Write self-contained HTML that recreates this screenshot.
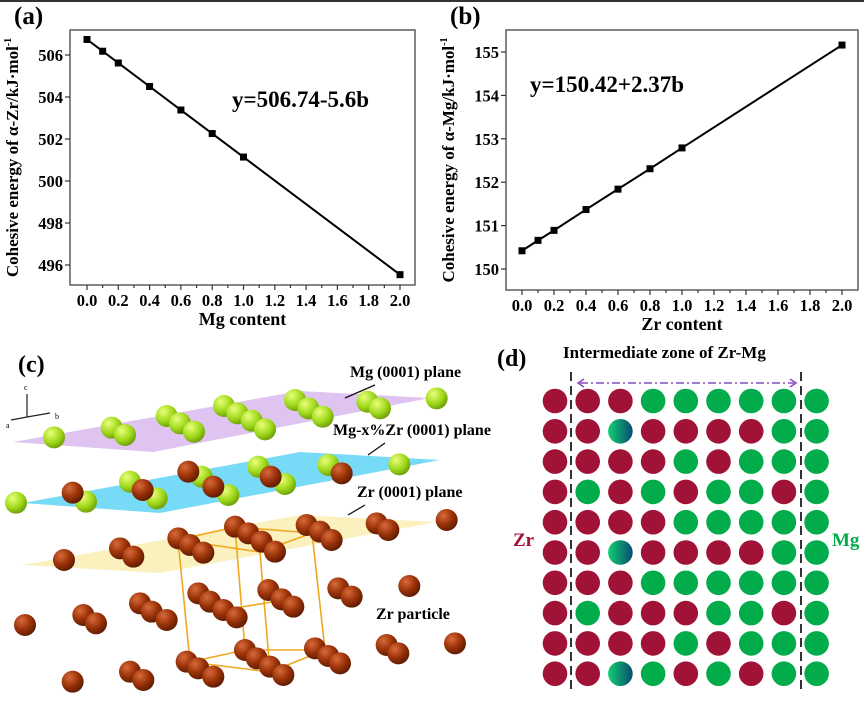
<!DOCTYPE html>
<html><head><meta charset="utf-8"><style>
body{margin:0;background:#fff}
svg{display:block;font-family:"Liberation Serif",serif;font-weight:bold}
</style></head><body>
<svg width="864" height="728" viewBox="0 0 864 728">
<defs>
<radialGradient id="gg" cx="0.35" cy="0.3" r="0.75"><stop offset="0" stop-color="#e9ff7a"/><stop offset="0.6" stop-color="#9ed81a"/><stop offset="1" stop-color="#6a9a08"/></radialGradient>
<radialGradient id="bb" cx="0.35" cy="0.3" r="0.75"><stop offset="0" stop-color="#d86a3a"/><stop offset="0.55" stop-color="#9a3208"/><stop offset="1" stop-color="#5a1a02"/></radialGradient>
<linearGradient id="tg" x1="0" x2="1"><stop offset="0" stop-color="#10d070"/><stop offset="1" stop-color="#0a4a70"/></linearGradient>
</defs>
<line x1="0" y1="1" x2="864" y2="1" stroke="#333" stroke-width="2"/>
<g id="pa"></g>
<g id="pb"></g>
<g id="pc">
<text x="18" y="372" font-size="24">(c)</text>
<polygon points="13,442 300,391 430,398 153,452" fill="#d9b8ee" opacity="0.85"/>
<polygon points="23,503 300,452 440,460 160,513" fill="#5fd3f5" opacity="0.85"/>
<polygon points="23,565 300,515 437,522 160,573" fill="#fbf0b8" opacity="0.9"/>
<g stroke="#f0a820" stroke-width="1.6" fill="none">
<polygon points="178,540 235,527 312,533 260,552"/>
<polygon points="190,662 245,650 325,650 270,672"/>
<line x1="178" y1="540" x2="190" y2="662"/><line x1="235" y1="527" x2="245" y2="650"/><line x1="312" y1="533" x2="325" y2="650"/><line x1="260" y1="552" x2="270" y2="672"/>
<line x1="235" y1="608" x2="272" y2="602"/>
</g>
<g id="atoms"></g>
<g stroke="#222" stroke-width="1.2" fill="#222">
<line x1="27" y1="417" x2="27" y2="394"/><line x1="27" y1="417" x2="50" y2="413"/><line x1="27" y1="417" x2="11" y2="420"/>
</g>
<text x="24" y="390" font-size="8" font-weight="normal">c</text>
<text x="55" y="419" font-size="8" font-weight="normal">b</text>
<text x="6" y="428" font-size="8" font-weight="normal">a</text>
<g stroke="#111" stroke-width="1.3"><line x1="375" y1="385" x2="345" y2="398"/><line x1="385" y1="443" x2="368" y2="455"/><line x1="365" y1="505" x2="348" y2="515"/></g>
<text x="350" y="377" font-size="16">Mg (0001) plane</text>
<text x="333" y="435" font-size="16">Mg-x%Zr (0001) plane</text>
<text x="357" y="497" font-size="16">Zr (0001) plane</text>
<text x="376" y="619" font-size="16">Zr particle</text>
</g>
<g id="pd">
<text x="497" y="366" font-size="24">(d)</text>
<text x="563" y="358" font-size="17">Intermediate zone of Zr-Mg</text>
<line x1="580" y1="383" x2="794" y2="383" stroke="#8a4fc0" stroke-width="1.6" stroke-dasharray="8,3,2,3"/>
<path d="M584,379 L578,383 L584,387 M790,379 L796,383 L790,387" stroke="#8a4fc0" stroke-width="1.6" fill="none"/>
<line x1="571" y1="372" x2="571" y2="694" stroke="#333" stroke-width="2" stroke-dasharray="9,5"/>
<line x1="801" y1="372" x2="801" y2="694" stroke="#333" stroke-width="2" stroke-dasharray="9,5"/>
<g id="grid"></g>
<text x="513" y="546" font-size="19" fill="#a01236">Zr</text>
<text x="832" y="546" font-size="19" fill="#03ac4b">Mg</text>
</g>
</svg>
<script>
const NS='http://www.w3.org/2000/svg';
const xCats=[0,0.1,0.2,0.4,0.6,0.8,1.0,2.0];
const aVals=[506.74,506.18,505.62,504.50,503.38,502.26,501.14,495.54];
const bVals=[150.42,150.66,150.89,151.37,151.84,152.31,152.79,155.16];
const xTicks=[0,0.2,0.4,0.6,0.8,1.0,1.2,1.4,1.6,1.8,2.0];
const aTicks=[496,498,500,502,504,506];
const bTicks=[150,151,152,153,154,155];
function mk(p,t,at,txt){const e=document.createElementNS(NS,t);for(const k in at)e.setAttribute(k,at[k]);if(txt!==undefined)e.textContent=txt;p.appendChild(e);return e;}
function chart(gid,box,x0,x1,y0,yv0,y1,yv1,vals,yt,label,xlabel,ylabel,eq,eqx,eqy){
 const g=document.getElementById(gid);
 const X=v=>x0+(x1-x0)*v/2, Y=v=>y0+(y1-y0)*(v-yv0)/(yv1-yv0);
 let r=mk(g,'rect',{x:box[0],y:box[1],width:box[2]-box[0],height:box[3]-box[1],fill:'none',stroke:'#444','stroke-width':1.3});
 
 let t=mk(g,'text',{x:box[0]-56,y:box[1]-6,'font-size':25},label);
 
 for(let i=0;i<=20;i++){const v=i*0.1;const xx=X(v);mk(g,'line',{x1:xx,x2:xx,y1:box[3],y2:box[3]+(i%2?3:5),stroke:'#333','stroke-width':1.2});}
 xTicks.forEach(v=>{const e=mk(g,'text',{x:X(v),y:box[3]+21,'font-size':16.5,'text-anchor':'middle'},v.toFixed(1));});
 yt.forEach(v=>{const yy=Y(v);mk(g,'line',{x1:box[0],x2:box[0]-5,y1:yy,y2:yy,stroke:'#333','stroke-width':1.2});const e=mk(g,'text',{x:box[0]-7,y:yy+6,'font-size':16.5,'text-anchor':'end'},String(v));});
 let xl=mk(g,'text',{x:(box[0]+box[2])/2,y:box[3]+40,'font-size':18,'text-anchor':'middle'},xlabel);
 
 const cy=(box[1]+box[3])/2, cx=box[0]-52;
 let yl=mk(g,'text',{x:cx,y:cy,'font-size':17,'text-anchor':'middle',transform:`rotate(-90 ${cx} ${cy})`},ylabel);
 mk(yl,'tspan',{'font-size':10,dy:-7},'-1');
 
 let pl=mk(g,'polyline',{points:xCats.map((c,i)=>X(c)+','+Y(vals[i])).join(' '),fill:'none',stroke:'#000','stroke-width':2});
 
 xCats.forEach((c,i)=>{const m=mk(g,'rect',{x:X(c)-3.5,y:Y(vals[i])-3.5,width:7,height:7,fill:'#000'});});
 let eqt=mk(g,'text',{x:eqx,y:eqy,'font-size':23},eq);
 
}
chart('pa',[70,30,415,285],87,400,55,506,265,496,aVals,aTicks,'(a)','Mg content','Cohesive energy of α-Zr/kJ·mol','y=506.74-5.6b',232,107);
chart('pb',[506,30,858,290],522,842,52,155,269,150,bVals,bTicks,'(b)','Zr content','Cohesive energy of α-Mg/kJ·mol','y=150.42+2.37b',530,92);
const greens=[[162,322],[335,293],[375,315],[500,258],[540,280],[582,305],[672,228],[712,250],[755,272],[795,298],[885,210],[925,235],[968,260],[1102,215],[1140,235],[1310,205],[48,518],[258,515],[390,455],[470,505],[605,440],[685,495],[775,410],[855,462],[985,405],[1198,403]];
const browns=[[218,488],[428,480],[565,425],[640,470],[812,440],[1025,430],[192,690],[360,655],[400,680],[535,625],[570,645],[610,668],[705,590],[745,610],[785,635],[825,665],[920,585],[960,605],[995,630],[1130,580],[1165,600],[1340,570],[595,790],[630,815],[670,840],[710,862],[805,780],[845,808],[880,830],[1015,775],[1055,800],[1228,768],[420,820],[455,845],[500,870],[250,855],[288,880],[75,885],[560,995],[595,1015],[640,1040],[735,960],[770,985],[810,1010],[850,1035],[945,955],[985,978],[1020,1000],[1160,945],[1195,970],[1365,940],[390,1025],[430,1050],[218,1055]];
const ag=document.getElementById('atoms');
greens.forEach(p=>{const c=mk(ag,'circle',{cx:p[0]/3,cy:p[1]/3+330,r:11,fill:'url(#gg)'});});
browns.forEach(p=>{const c=mk(ag,'circle',{cx:p[0]/3,cy:p[1]/3+330,r:11,fill:'url(#bb)'});});
const rows=['RRRGGGGGG','RRTRRRRGG','RRRRGRGGG','RGRGRGGRG','RRRRGGGGG','RRTRRRRGG','RRRGGGGGG','RGRRRGGRG','RRRRGRGGG','RRTGRGRGG'];
const gg=document.getElementById('grid');
const col={R:'#a01236',G:'#03ac4b',T:'url(#tg)'};
rows.forEach((row,ri)=>{[...row].forEach((ch,ci)=>{const c=mk(gg,'circle',{cx:555+ci*32.7,cy:401+ri*30.3,r:12.3,fill:col[ch]});});});
</script>
</body></html>
